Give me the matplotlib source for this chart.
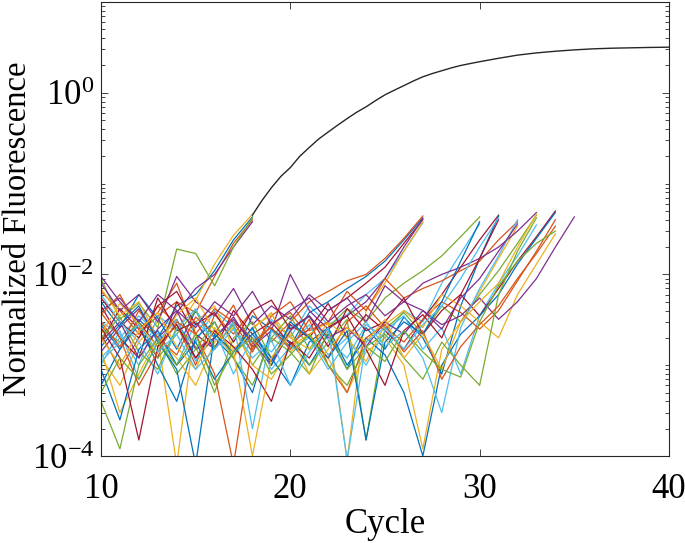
import matplotlib.pyplot as plt
from matplotlib.ticker import FixedLocator, LogLocator, NullLocator, NullFormatter, LogFormatterMathtext

plt.rcParams["font.family"] = ["Liberation Serif", "DejaVu Serif"]
plt.rcParams["mathtext.default"] = "regular"

# Fluorescence traces, values in units of 1e-3, one value per cycle starting at cycle 10
first_cycle = 10
scale = 1e-3

# early amplifying wells (end at cycle 18)
early_wells = [
    [2.8, 1.5, 3.2, 2.0, 4.5, 6.0, 11, 24, 43],
    [6.5, 4.0, 2.2, 3.5, 5.0, 3.8, 9.5, 22, 40],
    [1.2, 0.6, 1.8, 3.0, 2.4, 5.2, 13, 27, 46],
    [4.0, 5.5, 3.0, 1.6, 3.8, 7.0, 10, 20, 38],
    [9.0, 3.2, 4.8, 2.6, 19, 17, 7.5, 20, 42],
]

# middle wells (end at cycle 27)
middle_wells = [
    [3.0, 2.2, 1.0, 3.5, 2.5, 1.8, 4.0, 2.6, 1.4, 3.2, 2.0, 4.5, 2.8, 3.6, 6.0, 9.0, 18, 37],
    [1.8, 4.2, 2.5, 1.2, 5.0, 2.2, 1.5, 3.0, 2.0, 1.1, 2.8, 2.0, 4.0, 5.5, 8.0, 12, 22, 40],
    [5.0, 2.6, 6.0, 3.3, 1.5, 4.0, 2.0, 1.2, 3.5, 2.5, 1.6, 3.8, 5.0, 7.0, 9.5, 14, 24, 42],
    [2.2, 0.9, 2.0, 4.5, 2.8, 1.0, 3.6, 2.2, 4.0, 1.8, 3.0, 5.0, 6.5, 8.5, 10, 15, 25, 44],
    [7.0, 3.5, 5.0, 2.0, 0.08, 3.0, 4.5, 1.5, 2.5, 3.8, 1.4, 2.2, 3.0, 0.09, 4.0, 8.0, 18, 38],
    [1.4, 2.6, 4.2, 2.0, 3.2, 1.2, 2.0, 3.4, 1.6, 2.4, 10, 4.0, 2.5, 3.5, 5.0, 9.0, 20, 41],
]

# late wells (end between cycle 30 and 35)
late_wells = [
    [2.5, 1.8, 3.0, 1.2, 2.2, 4.0, 1.6, 2.8, 1.0, 2.0, 3.5, 1.5, 2.6, 4.2, 3.0, 5.5, 8.0, 11, 16, 26, 43],
    [1.0, 2.4, 0.7, 1.8, 3.2, 1.1, 2.5, 0.8, 2.0, 1.4, 2.6, 3.4, 1.9, 1.2, 2.8, 2.0, 4.0, 3.0, 8.0, 17, 36],
    [4.5, 2.0, 1.2, 5.5, 2.4, 3.0, 1.5, 4.0, 2.2, 3.0, 1.7, 2.5, 4.8, 2.0, 3.6, 2.4, 1.5, 3.2, 6.0, 12, 24, 45],
    [0.6, 1.5, 2.8, 1.0, 0.4, 2.0, 3.0, 1.2, 0.5, 2.5, 1.8, 1.0, 2.2, 0.9, 2.6, 1.5, 3.4, 2.0, 0.8, 4.5, 15, 44],
    [3.6, 6.0, 2.5, 3.8, 8.0, 2.2, 4.2, 3.0, 1.4, 3.5, 5.0, 2.4, 3.0, 6.5, 4.0, 9.0, 5.5, 7.0, 8.5, 11, 14, 24, 38],
    [1.5, 0.3, 0.8, 2.0, 1.2, 0.6, 1.8, 2.6, 1.0, 0.7, 1.6, 2.2, 1.2, 0.5, 1.4, 2.0, 1.0, 0.12, 1.5, 3.0, 6.5, 15, 34],
    [8.0, 4.0, 6.0, 3.0, 9.5, 5.0, 3.5, 7.0, 2.8, 4.5, 3.2, 6.0, 4.0, 5.5, 3.0, 7.5, 5.0, 8.0, 10, 12, 15, 20, 30, 48],
    [2.0, 3.4, 1.4, 0.9, 2.6, 1.6, 0.5, 2.0, 3.0, 1.2, 2.4, 1.0, 1.8, 3.2, 0.15, 2.5, 3.8, 2.2, 4.5, 3.0, 6.0, 11, 22, 45],
    [1.2, 2.0, 3.5, 2.2, 1.0, 3.0, 2.0, 1.4, 2.5, 0.9, 1.6, 2.8, 1.3, 2.0, 1.0, 2.4, 3.5, 1.5, 2.6, 0.8, 3.5, 8.0, 16, 35],
    [5.5, 3.0, 2.0, 4.5, 6.5, 2.8, 3.8, 1.8, 4.0, 5.2, 2.5, 3.5, 1.6, 4.2, 2.4, 3.0, 5.5, 2.2, 4.0, 6.0, 3.5, 7.0, 14, 26, 50],
    [0.9, 0.25, 1.5, 2.4, 1.0, 1.8, 0.7, 1.4, 2.2, 1.2, 0.6, 1.8, 2.6, 1.0, 2.0, 1.3, 0.5, 0.1, 1.0, 2.2, 3.5, 6.0, 13, 25, 48],
    [3.0, 1.6, 4.0, 2.0, 1.3, 3.4, 2.2, 4.6, 1.5, 2.8, 3.8, 2.0, 1.2, 3.0, 4.5, 2.6, 1.8, 3.2, 5.0, 3.8, 2.5, 4.0, 8.5, 18, 40],
    [2.2, 4.8, 2.8, 1.6, 3.6, 5.5, 2.4, 1.2, 2.6, 3.6, 2.0, 1.5, 3.0, 2.0, 1.1, 2.8, 4.0, 2.6, 6.0, 4.5, 3.0, 2.0, 6.0, 13, 28],
    [1.8, 3.0, 1.2, 2.5, 4.0, 1.5, 2.0, 3.2, 1.8, 1.0, 2.4, 3.5, 2.0, 2.6, 1.6, 3.0, 2.2, 4.0, 2.8, 3.5, 5.5, 3.2, 5.0, 9.0, 20, 43],
    [0.4, 0.12, 1.0, 2.0, 0.8, 1.5, 3.0, 1.2, 0.6, 2.0, 1.4, 0.8, 2.4, 0.9, 1.6, 2.2, 1.2, 0.7, 1.8, 1.0, 0.6, 6.0, 18, 42],
    [6.0, 3.0, 1.8, 0.8, 2.5, 4.2, 1.5, 3.0, 0.2, 2.4, 1.5, 2.0, 0.9, 1.8, 3.0, 1.6, 2.4, 1.2, 0.3, 2.6, 7.0, 16, 40],
    [2.6, 1.2, 0.15, 1.6, 2.8, 1.2, 2.4, 1.6, 0.9, 0.4, 1.8, 1.2, 2.6, 3.5, 1.5, 0.6, 2.4, 3.6, 2.0, 6.0, 15, 40],
    [1.6, 2.8, 4.5, 1.8, 0.9, 0.08, 2.2, 1.4, 2.6, 1.0, 3.0, 2.0, 1.2, 2.4, 0.15, 1.8, 3.0, 2.2, 5.0, 14, 38],
    [3.8, 2.0, 0.6, 1.4, 3.0, 2.2, 0.8, 0.08, 1.8, 2.6, 1.5, 3.2, 1.0, 0.5, 2.0, 2.8, 1.4, 2.4, 0.7, 1.6, 2.8, 4.5, 9.0, 17, 34],
    [2.0, 1.0, 2.4, 3.8, 1.6, 0.9, 2.6, 1.4, 0.1, 1.2, 2.2, 0.8, 1.5, 2.6, 1.8, 3.2, 1.2, 2.2, 0.9, 3.0, 5.0, 8.0, 20, 46],
    [9.5, 5.0, 3.0, 6.0, 4.0, 2.6, 5.0, 3.5, 6.5, 2.8, 4.0, 5.5, 3.0, 4.5, 6.0, 3.5, 5.0, 4.0, 2.5, 5.5, 9.0, 18, 36],
    [0.5, 1.2, 0.7, 1.8, 1.0, 2.2, 0.6, 1.4, 2.0, 0.8, 1.3, 2.2, 1.0, 0.6, 1.6, 1.1, 2.4, 1.4, 0.9, 0.74, 3.0, 7.5, 14, 22, 30],
    [1.1, 1.8, 2.8, 1.4, 2.2, 0.9, 1.5, 2.5, 1.2, 1.9, 0.6, 1.4, 2.6, 0.09, 1.8, 2.6, 1.5, 2.8, 4.5, 9.0, 20, 42],
]

# fitted amplification curve, read every half cycle where it bends most
fit_cycles = [18, 18.5, 19, 19.5, 20, 20.5, 21, 21.5, 22, 22.5, 23, 23.5, 24, 24.5, 25,
              25.5, 26, 26.5, 27, 27.5, 28, 28.5, 29, 29.5, 30, 31, 32, 33, 34, 35, 36,
              37, 38, 39, 40]
fit_values = [0.045, 0.065, 0.09, 0.12, 0.15, 0.20, 0.25, 0.31, 0.37, 0.44, 0.52, 0.61,
              0.70, 0.82, 0.95, 1.07, 1.2, 1.35, 1.5, 1.63, 1.75, 1.88, 2.0, 2.1, 2.2,
              2.4, 2.6, 2.75, 2.87, 2.97, 3.05, 3.1, 3.13, 3.16, 3.18]

matlab_colors = ["#0072BD", "#D95319", "#EDB120", "#7E2F8E", "#77AC30", "#4DBEEE", "#A2142F"]

fig = plt.figure(figsize=(6.85, 5.43), dpi=100)
ax = fig.add_axes([0.1474, 0.1602, 0.8292, 0.8361])

all_wells = early_wells + middle_wells + late_wells
for i, well in enumerate(all_wells):
    cycles = list(range(first_cycle, first_cycle + len(well)))
    ax.plot(cycles, [v * scale for v in well], color=matlab_colors[i % 7], linewidth=0.9)

ax.plot(fit_cycles, fit_values, color="#262626", linewidth=1.0)

ax.set_yscale("log")
ax.set_xlim(10, 40)
ax.set_ylim(1e-4, 10)
ax.set_xticks([10, 20, 30, 40])
ax.xaxis.set_minor_locator(NullLocator())
ax.yaxis.set_major_locator(FixedLocator([1e-4, 1e-2, 1]))
ax.yaxis.set_major_formatter(LogFormatterMathtext())
ax.yaxis.set_minor_locator(LogLocator(base=10, subs=range(1, 10)))
ax.yaxis.set_minor_formatter(NullFormatter())
ax.tick_params(direction="in", which="both", top=True, right=True, labelsize=25, colors="#262626",
               labelcolor="black", width=0.6)
ax.tick_params(which="major", length=5)
ax.tick_params(which="minor", length=3)
ax.tick_params(axis="x", pad=12)
ax.tick_params(axis="y", pad=5)
for s in ax.spines.values():
    s.set_color("#262626")
    s.set_linewidth(0.8)

ax.set_xlabel("Cycle", fontsize=25, labelpad=2)
ax.set_ylabel("Normalized Fluorescence", fontsize=23.5)
ax.yaxis.set_label_coords(-0.12, 0.5)

fig.savefig("out.png", dpi=100)
